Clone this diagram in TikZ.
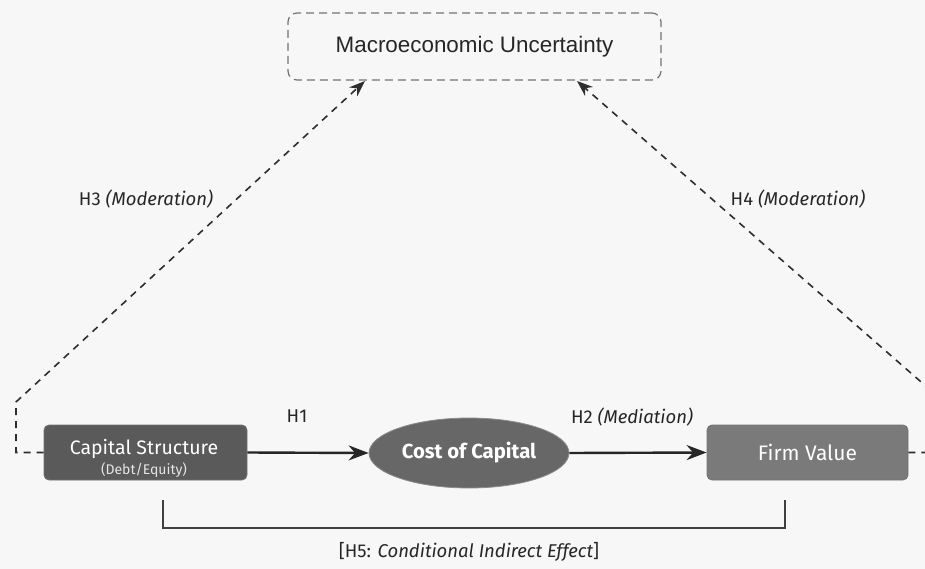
\documentclass[tikz,border=0pt]{standalone}
\usepackage{fontspec}
\setmainfont{Fira Sans}
\newfontfamily\macrofont{Liberation Sans}
\usetikzlibrary{arrows.meta,shapes.geometric}
\definecolor{csfill}{HTML}{5A5A5A}
\definecolor{ccfill}{HTML}{676767}
\definecolor{fvfill}{HTML}{7A7A7A}
\definecolor{dashgray}{HTML}{2E2E2E}
\tikzset{
  varbox/.style={draw=black!55, line width=0.8pt, rounded corners=5pt, text=white, align=center, inner sep=0pt},
  modline/.style={draw=dashgray, line width=1.6pt, dash pattern=on 7pt off 6pt, -{Stealth[length=16pt,width=12pt]}},
  mainarrow/.style={draw=black!85, line width=2.4pt, -{Stealth[length=20pt,width=15pt]}},
  hlabel/.style={font=\fontsize{18.5}{21}\selectfont, text=black!85},
}
\begin{document}
\begin{tikzpicture}[x=1pt,y=-1pt]
\clip (0,0) rectangle (925,569);
\fill[white!97!black] (0,0) rectangle (925,569);
% Macro box
\node[draw=black!55, line width=1.2pt, dash pattern=on 8pt off 5pt, rounded corners=9pt,
      minimum width=373pt, minimum height=67pt, font=\macrofont\fontsize{22.4}{24}\selectfont, text=black!85]
  (mu) at (474.5,46.5) {Macroeconomic Uncertainty};
% Variable boxes
\node[varbox, fill=csfill, minimum width=203pt, minimum height=55pt] (cs) at (145.5,452.5) {};
\node[font=\fontsize{19.5}{21}\selectfont, text=white] (cst) at (144,449) {Capital Structure};
\node[font=\fontsize{14}{16}\selectfont, text=white!90!black] (cse) at (144,470.5) {(Debt/Equity)};
\node[ellipse, draw=black!45, line width=0.8pt, fill=ccfill, minimum width=200pt, minimum height=70pt,
      inner sep=0pt, text=white, font=\bfseries\fontsize{20.3}{22}\selectfont] (cc) at (469,453) {Cost of Capital};
\node[varbox, fill=fvfill, minimum width=201pt, minimum height=55pt, font=\fontsize{21}{23}\selectfont] (fv) at (807.5,452.5) {Firm Value};
% main arrows
\draw[mainarrow] (cs.east) -- (cc.west);
\draw[mainarrow] (cc.east) -- (fv.west);
\node[hlabel] (h1) at (297,416) {H1};
\node[hlabel] (h2) at (632,417) {H2 \textit{(Mediation)}};
% moderation paths
\coordinate (lc1) at (16,452.5);
\coordinate (lc2) at (16,402);
\coordinate (rc1) at (944,452.5);
\coordinate (rc2) at (944,402);
\coordinate (mul) at (365,81);
\coordinate (mur) at (577,81);
\draw[modline] (cs.west) -- (lc1) -- (lc2) -- (mul);
\draw[modline] (fv.east) -- (rc1) -- (rc2) -- (mur);
\node[hlabel] (h3) at (146,199) {H3 \textit{(Moderation)}};
\node[hlabel] (h4) at (798,199) {H4 \textit{(Moderation)}};
% bracket
\coordinate (b1) at (163,500);
\coordinate (b2) at (163,528);
\coordinate (b3) at (785,528);
\coordinate (b4) at (785,500);
\draw[black!75, line width=2pt] (b1) -- (b2) -- (b3) -- (b4);
\node[hlabel] (h5) at (469,552) {[H5: \textit{Conditional Indirect Effect}]};
\end{tikzpicture}
\end{document}
